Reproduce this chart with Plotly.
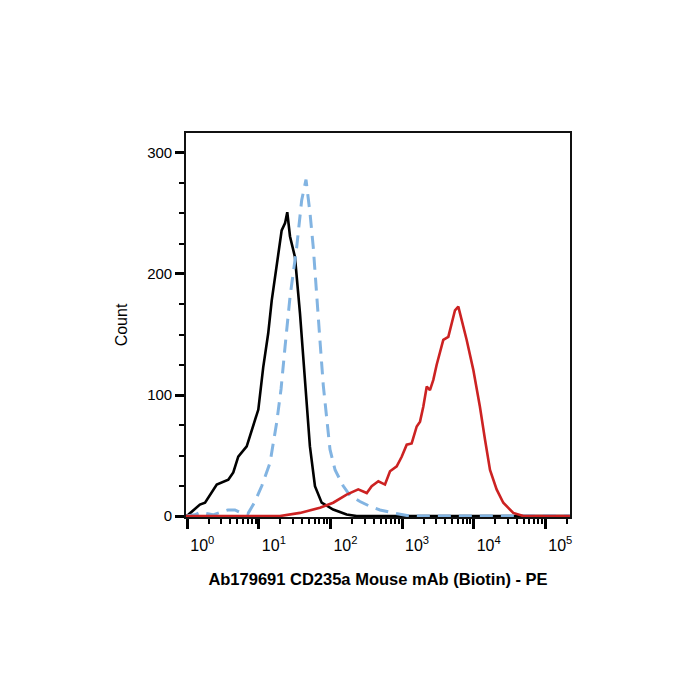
import plotly.graph_objects as go

# Fluorescence intensity (PE) and count values
black_x = [0.96, 1.03, 1.50, 1.77, 2.58, 3.74, 4.39, 5.15, 6.76, 8.36, 9.82, 11.5, 13.5, 15.1,
           17.7, 20.8, 23.2, 24.9, 27.2, 31.9, 37.5, 44.1, 51.6, 60.7, 75.3, 109, 168, 232, 221000]
black_y = [0, 1, 9.5, 11, 26, 30, 36, 49, 57.5, 74, 88, 123, 151, 178,
           206, 236, 242, 251, 231, 214, 167.5, 112.5, 57.5, 24.6, 11, 5.4, 1.2, 0, 0]

blue_x = [0.96, 1.28, 1.50, 1.77, 2.29, 2.86, 3.70, 4.63, 5.44, 7.04, 8.82, 11.0, 14.3, 17.7,
          20.4, 23.2, 27.2, 33.7, 39.6, 45.5, 51.8, 57.5, 64.2, 71.3, 79.3, 88.5, 98.4, 116,
          150, 187, 258, 356, 491, 746, 1170, 1780, 221000]
blue_y = [0, 1, 3, 2, 1, 3, 5, 5, 3, 2, 12, 25, 44, 77,
          105, 140, 181, 222, 261, 278, 250, 222, 186, 145, 108, 78, 55, 38,
          25, 17, 12, 8, 5, 2.6, 0.5, 0, 0]

red_x = [0.96, 19.7, 37.5, 57.0, 71.3, 109, 168, 244, 321, 376, 466, 577, 678, 841, 987,
         1160, 1360, 1600, 1780, 1980, 2210, 2450, 2730, 3040, 3380, 3760, 4420, 4930,
         5480, 6100, 6800, 7980, 9860, 12200, 14400, 16900, 20900, 25900, 35700, 49300, 221000]
red_y = [0, 0, 2.6, 5, 6.8, 11, 17.7, 22, 19, 24.6, 28.7, 26, 37, 41, 49,
         59, 60, 74, 78, 90.5, 107, 104, 112.5, 125, 136, 145.5, 148, 159,
         170, 173, 162, 145.5, 121, 90.5, 63, 38, 22, 11, 2.6, 0, 0]

x_major = [1, 10, 100, 1000, 10000, 100000]
x_major_text = ["10<sup>0</sup>", "10<sup>1</sup>", "10<sup>2</sup>",
                "10<sup>3</sup>", "10<sup>4</sup>", "10<sup>5</sup>"]
x_minor = [m * d for d in [1, 10, 100, 1000, 10000] for m in range(2, 10)] + [200000]
y_major = [0, 100, 200, 300]
y_minor = [25, 50, 75, 125, 150, 175, 225, 250, 275]

FONT = "Liberation Sans, Arial, sans-serif"

fig = go.Figure()
fig.add_trace(go.Scatter(x=black_x, y=black_y, mode="lines",
                         line=dict(color="#000000", width=2.6)))
fig.add_trace(go.Scatter(x=blue_x, y=blue_y, mode="lines",
                         line=dict(color="#82B4E2", width=3, dash="13px,8px")))
fig.add_trace(go.Scatter(x=red_x, y=red_y, mode="lines",
                         line=dict(color="#CC2222", width=2.6)))

fig.update_layout(
    width=700, height=700,
    margin=dict(l=186, r=130, t=133, b=183),
    paper_bgcolor="white", plot_bgcolor="white",
    showlegend=False,
    font=dict(family=FONT, color="black", size=14),
    xaxis=dict(
        type="log", range=[-0.018, 5.345],
        tickmode="array", tickvals=x_major, ticktext=x_major_text,
        ticks="outside", ticklen=10, tickwidth=3, tickcolor="black",
        ticklabelshift=15, ticklabelstandoff=3,
        minor=dict(tickmode="array", tickvals=x_minor, ticks="outside",
                   ticklen=5, tickwidth=1.8, tickcolor="black", showgrid=False),
        showgrid=False, zeroline=False,
        showline=True, linecolor="#111111", linewidth=1.6, mirror=True,
        tickfont=dict(size=16, family=FONT),
        title=dict(text="<b>Ab179691 CD235a Mouse mAb (Biotin) - PE</b>",
                   font=dict(size=16.5, family=FONT), standoff=20),
    ),
    yaxis=dict(
        range=[-0.8, 316.5],
        tickmode="array", tickvals=y_major, ticktext=[str(v) for v in y_major],
        ticks="outside", ticklen=9, tickwidth=3, tickcolor="black",
        minor=dict(tickmode="array", tickvals=y_minor, ticks="outside",
                   ticklen=5, tickwidth=1.6, tickcolor="black", showgrid=False),
        showgrid=False, zeroline=False,
        showline=True, linecolor="#111111", linewidth=1.6, mirror=True,
        tickfont=dict(size=15, family=FONT),
        title=dict(text="Count", font=dict(size=16, family=FONT), standoff=16),
    ),
)

fig.write_html("out.html")
